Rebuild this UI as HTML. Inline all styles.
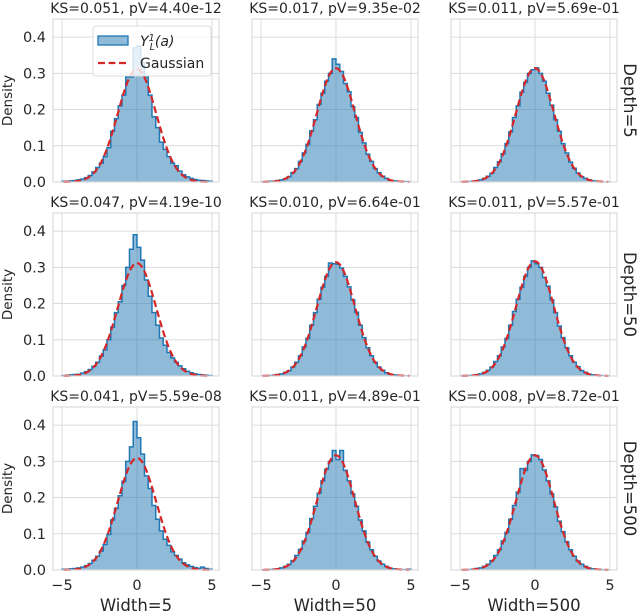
<!DOCTYPE html>
<html><head><meta charset="utf-8"><style>
html,body{margin:0;padding:0;background:#fff}
svg{display:block;font-family:"DejaVu Sans","Liberation Sans",sans-serif}
</style></head><body>
<svg id="chart" width="640" height="614" viewBox="0 0 640 614" xmlns="http://www.w3.org/2000/svg"></svg>
<script>
const binStart = -5, binWidth = 0.25;
const titles = [
 "KS=0.051, pV=4.40e-12","KS=0.017, pV=9.35e-02","KS=0.011, pV=5.69e-01",
 "KS=0.047, pV=4.19e-10","KS=0.010, pV=6.64e-01","KS=0.011, pV=5.57e-01",
 "KS=0.041, pV=5.59e-08","KS=0.011, pV=4.89e-01","KS=0.008, pV=8.72e-01"];
const colLabels = ["Width=5","Width=50","Width=500"];
const rowLabels = ["Depth=5","Depth=50","Depth=500"];
const yTicks = [0,0.1,0.2,0.3,0.4];
const yTickLabels = ["0.0","0.1","0.2","0.3","0.4"];
const xTicks = [-5,0,5];
const xTickLabels = ["\u22125","0","5"];
const gaussStd = [1.28,1.27,1.27,1.28,1.27,1.26,1.29,1.26,1.26];
const hist0 = [0.002,0.002,0.003,0.004,0.006,0.008,0.012,0.018,0.028,0.040,0.052,0.070,0.095,0.140,0.175,0.210,0.240,0.290,0.290,0.370,
 0.375,0.330,0.290,0.240,0.180,0.150,0.110,0.090,0.070,0.052,0.045,0.030,0.020,0.014,0.010,0.007,0.005,0.004,0.003,0.002];
const hist1 = [0,0.001,0.002,0.002,0.004,0.006,0.009,0.015,0.026,0.037,0.057,0.080,0.104,0.141,0.172,0.214,0.245,0.278,0.300,0.340,
 0.325,0.305,0.272,0.249,0.208,0.178,0.137,0.108,0.077,0.057,0.037,0.026,0.016,0.010,0.005,0.003,0.002,0.001,0.001,0];
const hist2 = [0,0.001,0.001,0.002,0.003,0.006,0.010,0.016,0.024,0.040,0.056,0.078,0.106,0.138,0.178,0.210,0.248,0.275,0.300,0.310,
 0.315,0.300,0.278,0.245,0.212,0.172,0.140,0.106,0.080,0.055,0.038,0.025,0.015,0.010,0.006,0.003,0.002,0.001,0,0];
const hist3 = [0.001,0.002,0.003,0.004,0.005,0.008,0.012,0.018,0.027,0.038,0.055,0.072,0.100,0.135,0.175,0.205,0.250,0.300,0.350,0.390,
 0.355,0.320,0.265,0.220,0.175,0.140,0.105,0.085,0.065,0.050,0.038,0.028,0.020,0.013,0.009,0.006,0.004,0.003,0.002,0.001];
const hist4 = [0,0.001,0.001,0.002,0.004,0.006,0.010,0.015,0.025,0.038,0.056,0.080,0.104,0.140,0.175,0.212,0.245,0.275,0.312,0.310,
 0.308,0.298,0.275,0.246,0.210,0.176,0.140,0.106,0.078,0.056,0.038,0.025,0.016,0.009,0.005,0.003,0.002,0.001,0,0];
const hist5 = [0,0.001,0.001,0.002,0.003,0.006,0.010,0.016,0.025,0.040,0.056,0.080,0.104,0.140,0.178,0.212,0.245,0.275,0.300,0.318,
 0.310,0.300,0.272,0.248,0.210,0.175,0.138,0.106,0.078,0.056,0.038,0.026,0.015,0.010,0.005,0.003,0.002,0.001,0,0];
const hist6 = [0.002,0.002,0.003,0.004,0.006,0.008,0.012,0.018,0.027,0.038,0.052,0.070,0.098,0.138,0.170,0.205,0.245,0.300,0.340,0.410,
 0.365,0.320,0.260,0.225,0.178,0.140,0.108,0.085,0.068,0.050,0.040,0.030,0.020,0.014,0.010,0.007,0.005,0.008,0.004,0.002];
const hist7 = [0,0.001,0.001,0.002,0.003,0.006,0.010,0.016,0.026,0.040,0.057,0.080,0.104,0.142,0.176,0.212,0.246,0.278,0.300,0.330,
 0.305,0.330,0.275,0.246,0.210,0.176,0.138,0.108,0.077,0.056,0.038,0.025,0.016,0.010,0.005,0.003,0.002,0.001,0.001,0.002];
const hist8 = [0,0.001,0.001,0.002,0.004,0.006,0.010,0.016,0.026,0.040,0.056,0.080,0.104,0.140,0.178,0.215,0.280,0.275,0.300,0.318,
 0.316,0.305,0.276,0.246,0.210,0.174,0.135,0.106,0.078,0.056,0.038,0.025,0.016,0.010,0.005,0.003,0.002,0.001,0,0];
const hists = [hist0,hist1,hist2,hist3,hist4,hist5,hist6,hist7,hist8];

const NS = "http://www.w3.org/2000/svg";
const svg = document.getElementById("chart");
const colX = [53,252,451], rowY = [19,213,407], PW = 166, PH = 163;
const xMin = -5.6, xMax = 5.47, yMax = 0.45;
function mk(tag, attrs, parent){
  const e = document.createElementNS(NS, tag);
  for (const k in attrs) e.setAttribute(k, attrs[k]);
  (parent||svg).appendChild(e); return e;
}
for (let r=0;r<3;r++) for (let c=0;c<3;c++){
  const i = r*3+c, x0 = colX[c], y0 = rowY[r];
  const sx = v => x0 + (v - xMin)/(xMax - xMin)*PW;
  const sy = v => y0 + PH - v/yMax*PH;
  const g = mk("g",{});
  
  
  const clipId = "clip"+i;
  const cp = mk("clipPath",{id:clipId},g); mk("rect",{x:x0,y:y0,width:PW,height:PH},cp);
  yTicks.forEach(t=>{ const l = mk("line",{x1:x0,x2:x0+PW,y1:sy(t),y2:sy(t),stroke:"#dcdcdc","stroke-width":1},g);
      });
  xTicks.forEach(t=>{ const l = mk("line",{x1:sx(t),x2:sx(t),y1:y0,y2:y0+PH,stroke:"#dcdcdc","stroke-width":1},g);
      });
  const h = hists[i];
  let d = "M"+sx(binStart)+","+sy(0);
  h.forEach((v,k)=>{ const a = binStart+k*binWidth; d += " L"+sx(a)+","+sy(v)+" L"+sx(a+binWidth)+","+sy(v); });
  d += " L"+sx(binStart+h.length*binWidth)+","+sy(0);
  const fill = mk("path",{d:d+" Z",fill:"#1f77b4","fill-opacity":0.5,stroke:"none","clip-path":"url(#"+clipId+")"},g);
   
  const step = mk("path",{d:d,fill:"none",stroke:"#1f77b4","stroke-width":1.5,"clip-path":"url(#"+clipId+")"},g);
   
  const s = gaussStd[i]; let gd = "";
  for (let k=0;k<=120;k++){ const xv = -4.9 + k*9.8/120; const yv = Math.exp(-xv*xv/(2*s*s))/(s*Math.sqrt(2*Math.PI));
    gd += (k?" L":"M")+sx(xv).toFixed(2)+","+sy(yv).toFixed(2); }
  const gl = mk("path",{d:gd,fill:"none",stroke:"#d62728","stroke-width":2.2,"stroke-dasharray":"7,3.5"},g);
   
  const fr = mk("rect",{x:x0,y:y0,width:PW,height:PH,fill:"none",stroke:"#dcdcdc","stroke-width":1.2},g);
   
  const tt = mk("text",{x:x0+PW/2,y:y0-6,"text-anchor":"middle","font-size":14,fill:"#262626"},g);
  tt.textContent = titles[i];
   
  if (c===0){
    yTicks.forEach((t,k)=>{ const tl = mk("text",{x:x0-7,y:sy(t)+5,"text-anchor":"end","font-size":14.5,fill:"#262626"},g);
      tl.textContent = yTickLabels[k];   });
    const yl = mk("text",{transform:"translate(12,"+(y0+PH/2)+") rotate(-90)","text-anchor":"middle","font-size":13.5,fill:"#262626"},g);
    yl.textContent = "Density";  
  }
  if (r===2){
    xTicks.forEach((t,k)=>{ const tl = mk("text",{x:sx(t),y:y0+PH+20,"text-anchor":"middle","font-size":14.5,fill:"#262626"},g);
      tl.textContent = xTickLabels[k];   });
    const xl = mk("text",{x:x0+PW/2,y:y0+PH+41,"text-anchor":"middle","font-size":16.5,fill:"#262626"},g);
    xl.textContent = colLabels[c];  
  }
  if (c===2){
    const rl = mk("text",{transform:"translate(624,"+(y0+PH/2)+") rotate(90)","text-anchor":"middle","font-size":16.5,fill:"#262626"},g);
    rl.textContent = rowLabels[r];  
  }
}
const lg = mk("g",{});
 
mk("rect",{x:93,y:26,width:118,height:50,rx:3,fill:"#ffffff","fill-opacity":0.8,stroke:"#dcdcdc"},lg);
const lp = mk("rect",{x:98,y:36,width:30,height:9,fill:"#1f77b4","fill-opacity":0.5,stroke:"#1f77b4","stroke-width":1.3},lg);
 
const lt1 = mk("text",{x:140,y:46,"font-size":14,"font-style":"italic",fill:"#262626"},lg);
lt1.innerHTML = 'Y<tspan font-size="9.5" dy="-5">1</tspan><tspan font-size="9.5" dx="-5" dy="9">L</tspan><tspan dy="-4">(a)</tspan>';
 
const ll = mk("line",{x1:98,x2:128,y1:63,y2:63,stroke:"#d62728","stroke-width":2.2,"stroke-dasharray":"7,3.5"},lg);
 
const lt2 = mk("text",{x:140,y:68,"font-size":14,fill:"#262626"},lg);
lt2.textContent = "Gaussian";
 
</script>
</body></html>
